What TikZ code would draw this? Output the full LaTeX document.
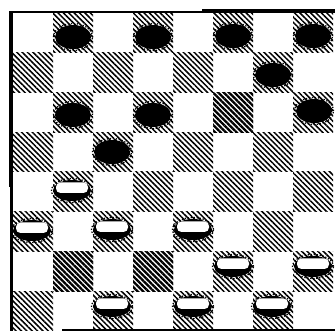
\documentclass[tikz,border=0pt]{standalone}
\usetikzlibrary{patterns.meta}
\begin{document}
\begin{tikzpicture}[x=1pt,y=-1pt,
  hatch/.style={pattern={Lines[angle=-45,distance=3.8pt,line width=1.5pt]}},
  densehatch/.style={pattern={Lines[angle=-45,distance=3.8pt,line width=2.3pt]}},
  blackpiece/.style={fill=black},
  fuzz/.style={draw=black, line width=1.3pt, dash pattern=on 1.3pt off 1.7pt},
  whiteshadow/.style={fill=black},
  whitetop/.style={fill=white, rounded corners=4.5pt}]
\useasboundingbox (0,0) rectangle (335,331);
\fill[white] (0,0) rectangle (335,331);
% dark squares
\foreach \r in {0,...,7} {
  \foreach \c in {0,...,7} {
    \pgfmathtruncatemacro{\odd}{mod(\r+\c,2)}
    \ifnum\odd=1
      \fill[hatch] (13+40*\c, 13+39.75*\r) rectangle ++(40,39.75);
    \fi
  }
}
% darker dark squares
\foreach \r/\c in {2/5, 6/1, 6/3} {
  \fill[white] (13+40*\c, 13+39.75*\r) rectangle ++(40,39.75);
  \fill[densehatch] (13+40*\c, 13+39.75*\r) rectangle ++(40,39.75);
}
% black pieces
\foreach \x/\y in {73/37, 153/37, 233/36, 313/36, 273/75, 73/115, 153/115, 314/111, 112/152} {
  \draw[fuzz] (\x,\y) ellipse [x radius=19.5pt, y radius=13.5pt];
  \fill[blackpiece] (\x,\y) ellipse [x radius=18pt, y radius=12pt];
}
% white pieces
\foreach \x/\y in {72/189, 32/229, 112/228, 193/228, 233/265, 313/265, 112/305, 193/305, 272/305} {
  \draw[fuzz] (\x,\y+1.5) ellipse [x radius=20.5pt, y radius=12pt];
  \fill[whiteshadow] (\x,\y+1.5) ellipse [x radius=19pt, y radius=10.5pt];
  \fill[whitetop] (\x-16,\y-6.5) rectangle (\x+16,\y+4);
}
% frame
\fill[black] (9,12) rectangle (13,187);
\fill[black] (10,187) rectangle (13,331);
\fill[black] (9,11) rectangle (335,13.5);
\fill[black] (202,9) rectangle (335,13.5);
\fill[black] (62,329) rectangle (335,331);
\end{tikzpicture}
\end{document}
